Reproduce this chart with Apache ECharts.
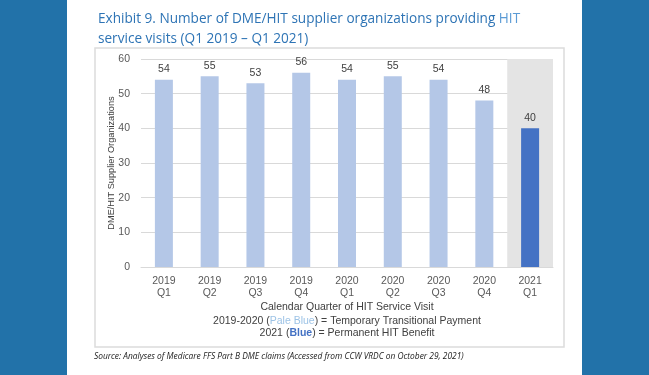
<!DOCTYPE html>
<html>
<head>
<meta charset="utf-8">
<script src="https://cdn.jsdelivr.net/npm/echarts@6/dist/echarts.min.js"></script>
<style>
    html, body {margin: 0; padding: 0; background: #ffffff;}
    #main {width: 649px; height: 375px;}
</style>
</head>
<body>
<div id="main"></div>
<script>
// quarters on the x axis, two label lines each
var quarters = ['2019\nQ1', '2019\nQ2', '2019\nQ3', '2019\nQ4', '2020\nQ1', '2020\nQ2', '2020\nQ3', '2020\nQ4', '2021\nQ1'];
// number of supplier organizations per quarter
var suppliers = [54, 55, 53, 56, 54, 55, 54, 48, 40];
// which quarters are the permanent benefit (dark blue)
var permanent = [false, false, false, false, false, false, false, false, true];
// grey band behind the 2021 quarter (up to the axis max)
var shade = [null, null, null, null, null, null, null, null, 60];

var PALE = '#b4c7e7';
var DARK = '#4472c4';
var SIDE = '#2272a9';

var chart = echarts.init(document.getElementById('main'));

var option = {
    animation: false,
    backgroundColor: '#ffffff',
    textStyle: {fontFamily: '"Liberation Sans", Arial, sans-serif'},
    title: {
        left: 93,
        top: 4,
        text: '{t|Exhibit 9. Number of DME/HIT supplier organizations providing }{h|HIT}\n{t|service visits (Q1 2019 \u2013 Q1 2021)}',
        textStyle: {
            fontWeight: 'normal',
            rich: {
                t: {fontFamily: '"Open Sans", sans-serif', fontSize: 13.6, fontWeight: 'normal', color: '#2e74b5', lineHeight: 20},
                h: {fontFamily: '"Open Sans", sans-serif', fontSize: 13.6, fontWeight: 'normal', color: '#5b9bd5', lineHeight: 20}
            }
        }
    },
    graphic: [
        {type: 'rect', shape: {x: 0, y: 0, width: 67, height: 375}, style: {fill: SIDE}, silent: true},
        {type: 'rect', shape: {x: 582, y: 0, width: 67, height: 375}, style: {fill: SIDE}, silent: true},
        {type: 'rect', shape: {x: 95, y: 48, width: 469, height: 299}, style: {fill: 'none', stroke: '#dcdcdc', lineWidth: 1.5}, silent: true, z: -1},
        {
            type: 'text', left: 94, top: 353, silent: true,
            style: {
                text: 'Source: Analyses of Medicare FFS Part B DME claims (Accessed from CCW VRDC on October 29, 2021)',
                font: 'italic 8.4px "Open Sans", sans-serif',
                fill: '#1a1a1a'
            }
        }
    ],
    grid: {left: 141, right: 96, top: 59, bottom: 108},
    xAxis: [{
        type: 'category',
        data: quarters,
        axisLine: {lineStyle: {color: '#d9d9d9'}},
        axisTick: {show: false},
        axisLabel: {color: '#595959', fontSize: 10.5, lineHeight: 12, margin: 8},
        name: '{a|Calendar Quarter of HIT Service Visit}\n{b|2019-2020 (}{p|Pale Blue}{b|) = Temporary Transitional Payment}\n{b|2021 (}{d|Blue}{b|) = Permanent HIT Benefit}',
        nameLocation: 'middle',
        nameGap: 32,
        nameMoveOverlap: false,
        nameTextStyle: {
            rich: {
                a: {fontSize: 10.5, color: '#404040', lineHeight: 16},
                b: {fontSize: 10.5, color: '#404040', lineHeight: 12},
                p: {fontSize: 10.5, color: '#9dc3e6', lineHeight: 12},
                d: {fontSize: 10.5, color: DARK, fontWeight: 'bold', lineHeight: 12}
            }
        }
    }, {
        type: 'category',
        data: quarters,
        show: false
    }],
    yAxis: {
        type: 'value',
        min: 0,
        max: 60,
        interval: 10,
        axisLine: {show: false},
        axisTick: {show: false},
        splitLine: {lineStyle: {color: '#d9d9d9'}},
        axisLabel: {color: '#595959', fontSize: 10.5, margin: 11},
        name: 'DME/HIT Supplier Organizations',
        nameLocation: 'middle',
        nameGap: 25,
        nameMoveOverlap: false,
        nameTextStyle: {color: '#404040', fontSize: 9.2}
    },
    series: [{
        type: 'bar',
        xAxisIndex: 1,
        data: shade,
        barWidth: '100%',
        silent: true,
        z: 0,
        itemStyle: {color: '#e4e4e4'}
    }, {
        type: 'bar',
        data: suppliers.map(function (v, i) {
            return {value: v, itemStyle: {color: permanent[i] ? DARK : PALE}};
        }),
        barWidth: 18,
        z: 2,
        label: {show: true, position: 'top', color: '#404040', fontSize: 10.5, distance: 5}
    }]
};

chart.setOption(option);
</script>
</body>
</html>
